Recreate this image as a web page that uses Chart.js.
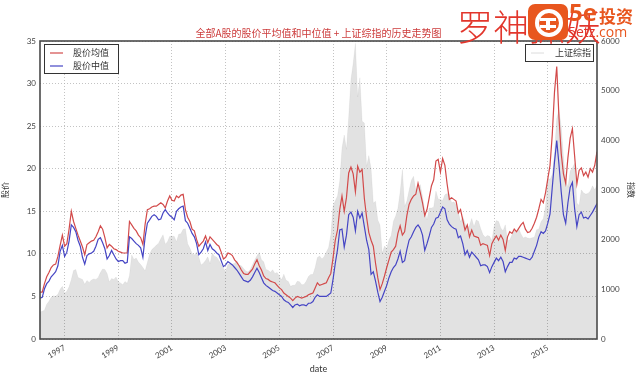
<!DOCTYPE html>
<html>
<head>
<meta charset="utf-8">
<script src="https://cdn.jsdelivr.net/npm/chart.js@4/dist/chart.umd.min.js"></script>
<style>
  body { margin: 0; background: #fff; }
  #wrap { position: relative; width: 636px; height: 376px; overflow: hidden; }
  .wm { position: absolute; pointer-events: none; white-space: nowrap; font-family: 'Noto Sans CJK SC', sans-serif; }
</style>
</head>
<body>
<div id="wrap">
  <canvas id="chart" width="636" height="376"></canvas>
  <div class="wm" style="left:457px; top:-1px; font-size:36px; font-weight:300; color:#e2362c;">罗神抓妖</div>
  <div class="wm" style="left:528px; top:4px; width:40px; height:36px; border-radius:7px; background:#e8561e;">
    <div style="position:absolute; left:7px; top:5px; width:20px; height:20px; border:4px solid #fff; border-radius:50%;"></div>
    <div style="position:absolute; left:12px; top:14px; width:16px; height:3px; background:#fff;"></div>
    <div style="position:absolute; left:12px; top:21px; width:16px; height:3px; background:#fff;"></div>
    <div style="position:absolute; left:18px; top:14px; width:4px; height:12px; background:#fff;"></div>
  </div>
  <div class="wm" style="left:569px; top:-5px; font-size:24px; font-weight:bold; color:#e8561e; font-family:'Open Sans', sans-serif;">5e</div>
  <div class="wm" style="left:599px; top:3px; font-size:17px; font-weight:bold; color:#e8561e;">投资</div>
  <div class="wm" style="left:568px; top:22px; font-size:14px; color:#e2362c; font-family:'Open Sans', sans-serif;">5etz<span style="color:#e8561e;">.com</span></div>
</div>
<script>
// monthly values, Jan 1996 .. Oct 2016
const startYear = 1996;
const tickYears = [1997, 1999, 2001, 2003, 2005, 2007, 2009, 2011, 2013, 2015];

// 股价均值
const meanPrice = [
  5.5, 5.5, 6.5, 7.3, 7.8, 8.4, 8.7, 8.8, 9.7, 11.0, 12.2, 10.9,
  11.2, 12.9, 15.0, 13.8, 13.0, 12.2, 11.5, 10.8, 9.9, 11.1, 11.3, 11.5,
  11.6, 12.0, 12.6, 13.3, 12.9, 11.9, 10.7, 11.1, 10.9, 10.6, 10.5, 10.3,
  10.2, 10.1, 10.1, 10.1, 13.8, 13.4, 13.0, 12.7, 12.2, 11.9, 11.1, 13.5,
  15.2, 15.3, 15.5, 15.6, 15.6, 15.8, 16.0, 15.8, 15.4, 16.2, 16.8, 16.3,
  16.2, 16.8, 16.6, 16.9, 17.0, 15.2, 14.3, 13.8, 12.9, 12.7, 11.7, 10.9,
  11.2, 11.5, 12.1, 11.3, 12.0, 11.7, 11.4, 11.1, 10.9, 10.2, 9.4, 9.6,
  10.1, 10.0, 9.8, 9.3, 9.0, 8.6, 8.1, 7.7, 7.6, 7.6, 7.9, 8.2,
  8.8, 9.3, 8.6, 8.1, 7.4, 7.1, 7.0, 6.8, 6.7, 6.6, 6.3, 6.0,
  5.8, 5.4, 5.2, 5.0, 4.8, 4.5, 4.8, 5.0, 4.9, 4.8, 4.9, 5.0,
  5.2, 5.3, 5.4, 6.0, 6.6, 6.3, 6.4, 6.5, 6.6, 7.2, 7.7, 9.5,
  11.6, 12.8, 15.2, 16.8, 15.0, 16.6, 19.5, 20.2, 19.4, 17.3, 20.3, 19.6,
  19.9, 16.5, 14.3, 12.5, 11.6, 10.9, 8.9, 7.2, 5.8, 6.5, 7.4, 8.4,
  9.3, 10.2, 10.5, 10.9, 12.4, 13.3, 12.2, 12.6, 14.5, 15.8, 16.4, 16.8,
  17.0, 18.3, 17.2, 16.0, 14.5, 15.2, 16.6, 18.0, 18.7, 20.9, 21.1, 19.6,
  21.2, 20.4, 18.2, 16.4, 16.6, 16.4, 16.2, 14.8, 15.2, 14.0, 12.8, 13.4,
  12.0, 12.8, 12.1, 12.0, 11.9, 11.0, 11.2, 11.1, 11.0, 9.8, 11.2, 11.7,
  12.1, 11.6, 12.2, 11.7, 10.4, 12.0, 12.6, 12.4, 12.9, 12.6, 13.0, 13.4,
  13.7, 12.9, 12.5, 12.6, 13.0, 13.6, 14.3, 15.3, 16.4, 16.0, 17.2, 18.8,
  20.4, 24.0, 29.0, 32.0, 26.0, 21.8, 19.4, 18.3, 21.3, 23.6, 24.7, 21.5,
  18.2, 19.8, 20.1, 19.2, 19.6, 19.0, 20.0, 19.6, 20.4, 22.0
];

// 股价中值
const medianPrice = [
  4.8, 4.9, 5.9, 6.5, 6.8, 7.3, 7.6, 7.9, 8.6, 10.3, 11.0, 9.7,
  10.2, 11.5, 13.4, 13.1, 12.6, 11.6, 10.9, 9.6, 8.8, 9.8, 10.0, 10.1,
  10.3, 10.9, 11.7, 11.9, 11.3, 10.6, 9.4, 9.8, 10.4, 9.9, 9.4, 9.1,
  9.2, 9.2, 8.9, 9.0, 12.0, 11.8, 11.5, 11.2, 11.0, 10.7, 9.6, 12.0,
  13.6, 14.0, 14.4, 14.6, 14.4, 14.0, 14.1, 14.8, 15.2, 14.8, 14.5, 14.3,
  14.0, 15.0, 15.3, 15.5, 15.6, 13.9, 13.6, 13.0, 12.4, 12.0, 11.2, 9.9,
  10.2, 10.6, 11.4, 10.4, 11.1, 10.6, 10.4, 10.1, 9.9, 9.2, 8.5, 8.7,
  9.1, 8.9, 8.7, 8.4, 8.1, 7.7, 7.3, 6.9, 6.8, 6.7, 6.9, 7.3,
  7.8, 8.3, 7.8, 7.2, 6.6, 6.3, 6.1, 5.9, 5.7, 5.6, 5.4, 5.2,
  5.0, 4.6, 4.4, 4.3, 4.0, 3.7, 4.0, 4.1, 3.9, 4.0, 4.0, 3.9,
  4.2, 4.2, 4.4, 4.9, 5.2, 5.0, 5.0, 5.0, 5.0, 5.2, 5.4, 7.0,
  8.9, 10.5, 12.8, 12.9, 10.8, 12.2, 14.6, 14.9, 14.3, 12.7, 15.0, 14.2,
  14.8, 13.2, 11.6, 10.5, 7.6, 7.9, 6.8, 5.5, 4.4, 4.9, 5.6, 6.3,
  7.2, 7.9, 8.4, 8.7, 9.4, 10.3, 9.0, 9.2, 10.5, 11.6, 12.0, 12.6,
  13.1, 13.4, 13.0, 12.2, 10.4, 11.2, 12.1, 13.1, 13.5, 14.2, 14.3, 14.9,
  15.5, 15.3, 14.0, 13.5, 13.2, 13.0, 12.9, 11.9, 12.1, 11.2, 9.9, 10.4,
  9.6, 10.2, 9.9, 9.6, 9.3, 8.6, 8.7, 8.7, 8.5, 7.8, 8.5, 9.0,
  9.5, 9.2, 9.6, 9.1, 7.9, 8.5, 9.0, 9.0, 9.5, 9.4, 9.7, 9.7,
  9.6, 9.5, 9.4, 9.3, 9.6, 10.3, 11.0, 12.0, 12.6, 12.4, 12.7, 13.6,
  14.7, 17.8, 20.8, 23.3, 20.5, 17.3, 14.6, 13.6, 16.0, 17.8, 18.4, 15.3,
  13.2, 14.6, 14.9, 14.2, 14.3, 14.1, 14.5, 14.9, 15.4, 15.9
];

// 上证综指
const shIndex = [
  540, 560, 580, 700, 760, 840, 870, 860, 900, 1000, 1060, 920,
  960, 1050, 1200, 1380, 1400, 1240, 1220, 1200, 1100, 1180, 1140, 1190,
  1210, 1200, 1240, 1340, 1410, 1400, 1320, 1150, 1220, 1200, 1250, 1150,
  1130, 1090, 1160, 1120, 1280, 1690, 1600, 1630, 1550, 1500, 1440, 1370,
  1540, 1710, 1800, 1840, 1890, 1930, 2020, 2100, 1910, 1960, 2070, 2070,
  2070, 1960, 2110, 2120, 2210, 2220, 1920, 1830, 1720, 1690, 1750, 1650,
  1490, 1525, 1580, 1655, 1515, 1733, 1668, 1648, 1581, 1507, 1421, 1357,
  1500, 1511, 1510, 1521, 1576, 1487, 1476, 1421, 1367, 1349, 1397, 1497,
  1590, 1675, 1742, 1595, 1555, 1400, 1386, 1342, 1396, 1320, 1340, 1266,
  1191, 1306, 1181, 1159, 1060, 1080, 1083, 1162, 1155, 1092, 1099, 1161,
  1258, 1299, 1298, 1440, 1641, 1672, 1612, 1658, 1752, 1837, 2099, 2675,
  2786, 2881, 3183, 3841, 4109, 3820, 4471, 5218, 5552, 5954, 4871, 5261,
  4383, 4348, 3472, 3693, 3433, 2736, 2775, 2397, 2293, 1728, 1871, 1821,
  1991, 2082, 2373, 2477, 2632, 2959, 3412, 2667, 2779, 2995, 3195, 3277,
  2989, 3051, 3109, 2870, 2592, 2398, 2638, 2638, 2655, 2979, 2820, 2808,
  2791, 2905, 2928, 2911, 2743, 2762, 2701, 2567, 2359, 2468, 2333, 2199,
  2292, 2428, 2262, 2396, 2372, 2225, 2103, 2047, 2086, 2068, 1980, 2269,
  2385, 2365, 2236, 2177, 2300, 1979, 1994, 2098, 2175, 2141, 2220, 2116,
  2033, 2056, 2033, 2026, 2039, 2048, 2201, 2217, 2364, 2420, 2683, 3235,
  3210, 3310, 3748, 4442, 4612, 4277, 3664, 3206, 3053, 3383, 3445, 3539,
  2738, 2688, 3004, 2938, 2917, 2930, 2979, 3085, 3005, 3100
];

const FONT = "Lato, 'Noto Sans CJK SC', sans-serif";
const CJK = "'Noto Sans CJK SC', sans-serif";

// month-end positions as decimal years
const xs = meanPrice.map((_, i) => startYear + (i + 1) / 12);
const toPts = arr => arr.map((v, i) => ({ x: xs[i], y: v }));

// frame, title and the two legend boxes
const decorations = {
  id: 'decorations',
  afterDraw(chart) {
    const { ctx, chartArea: a } = chart;
    ctx.save();
    ctx.strokeStyle = '#4a4a4a';
    ctx.lineWidth = 1.6;
    ctx.strokeRect(a.left, a.top, a.right - a.left, a.bottom - a.top);

    ctx.fillStyle = '#cc3b3b';
    ctx.font = '10px ' + CJK;
    ctx.textAlign = 'center';
    ctx.textBaseline = 'middle';
    ctx.fillText('全部A股的股价平均值和中位值 + 上证综指的历史走势图', (a.left + a.right) / 2, a.top - 8);

    ctx.textAlign = 'left';
    ctx.font = '9px ' + CJK;
    ctx.lineWidth = 1;
    ctx.strokeStyle = '#333';
    ctx.fillStyle = '#fff';
    ctx.fillRect(a.left + 4, a.top + 3, 74, 29);
    ctx.strokeRect(a.left + 4.5, a.top + 3.5, 74, 29);
    const items = [['股价均值', '#d24a4a'], ['股价中值', '#4545c4']];
    items.forEach(([t, c], k) => {
      const y = a.top + 12 + k * 13;
      ctx.strokeStyle = c;
      ctx.lineWidth = 1.2;
      ctx.beginPath(); ctx.moveTo(a.left + 10, y); ctx.lineTo(a.left + 23, y); ctx.stroke();
      ctx.fillStyle = '#333';
      ctx.fillText(t, a.left + 33, y);
    });

    ctx.fillStyle = '#fff';
    ctx.fillRect(a.right - 72, a.top + 3, 68, 17);
    ctx.strokeStyle = '#333';
    ctx.lineWidth = 1;
    ctx.strokeRect(a.right - 71.5, a.top + 3.5, 68, 17);
    ctx.strokeStyle = '#dcdcdc';
    ctx.beginPath(); ctx.moveTo(a.right - 66, a.top + 12); ctx.lineTo(a.right - 53, a.top + 12); ctx.stroke();
    ctx.fillStyle = '#333';
    ctx.fillText('上证综指', a.right - 42, a.top + 12);
    ctx.restore();
  }
};

const gridOpts = { color: '#b4b4b4', lineWidth: 0.8, drawTicks: false };
const tickFont = { size: 8, family: FONT };

new Chart(document.getElementById('chart'), {
  type: 'line',
  data: {
    datasets: [
      {
        label: '股价均值',
        data: toPts(meanPrice),
        yAxisID: 'y',
        borderColor: '#d24a4a',
        borderWidth: 1.2,
        pointRadius: 0,
        order: 2
      },
      {
        label: '股价中值',
        data: toPts(medianPrice),
        yAxisID: 'y',
        borderColor: '#4545c4',
        borderWidth: 1.2,
        pointRadius: 0,
        order: 1
      },
      {
        label: '上证综指',
        data: toPts(shIndex),
        yAxisID: 'y2',
        borderColor: 'rgba(0,0,0,0.06)',
        borderWidth: 0.8,
        backgroundColor: 'rgba(0,0,0,0.115)',
        fill: 'origin',
        pointRadius: 0,
        order: 3
      }
    ]
  },
  options: {
    responsive: false,
    animation: false,
    layout: { padding: { top: 41, left: 0, right: 0, bottom: 0 } },
    plugins: {
      legend: { display: false },
      tooltip: { enabled: false },
      title: { display: false }
    },
    scales: {
      x: {
        type: 'linear',
        min: xs[0],
        max: xs[xs.length - 1],
        afterBuildTicks: s => { s.ticks = tickYears.map(v => ({ value: v })); },
        afterFit: s => { s.height = 37; },
        grid: gridOpts,
        border: { display: false, dash: [1, 2] },
        ticks: {
          minRotation: 30,
          maxRotation: 30,
          padding: 4,
          font: tickFont,
          color: '#444',
          callback: v => String(v)
        },
        title: { display: true, text: 'date', font: { size: 9, family: FONT }, color: '#333', padding: { top: 0, bottom: 2 } }
      },
      y: {
        position: 'left',
        min: 0,
        max: 35,
        afterFit: s => { s.width = 40; },
        grid: gridOpts,
        border: { display: false, dash: [1, 2] },
        ticks: { stepSize: 5, padding: 4, font: tickFont, color: '#444' },
        title: { display: true, text: '股价', font: { size: 8, family: CJK }, color: '#333', padding: { top: 0, bottom: 2 } }
      },
      y2: {
        position: 'right',
        min: 0,
        max: 6000,
        afterFit: s => { s.width = 39; },
        grid: { display: false, drawTicks: false },
        border: { display: false },
        ticks: { stepSize: 1000, padding: 4, font: tickFont, color: '#444', callback: v => String(v) },
        title: { display: true, text: '指数', font: { size: 8, family: CJK }, color: '#333', padding: { top: 0, bottom: 2 } }
      }
    }
  },
  plugins: [decorations]
});
</script>
</body>
</html>
